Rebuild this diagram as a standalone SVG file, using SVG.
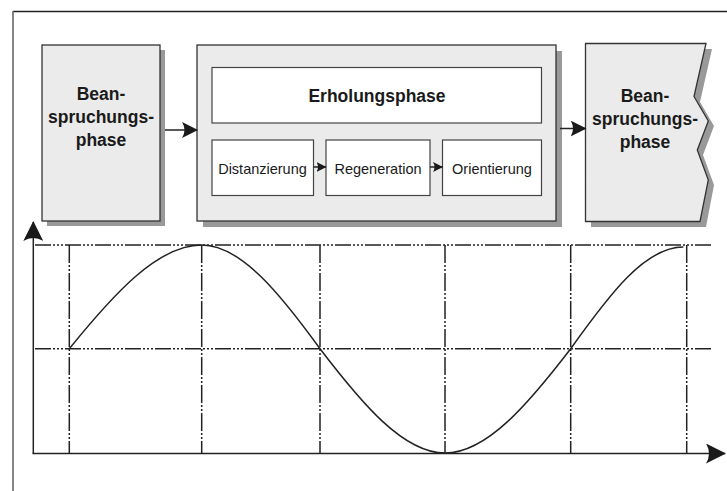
<svg xmlns="http://www.w3.org/2000/svg" width="727" height="491" viewBox="0 0 727 491">
<defs>
<style>
.box{fill:#ebebeb;stroke:#333;stroke-width:1.3}
.wbox{fill:#fff;stroke:#444;stroke-width:1.2}
.sh{fill:#999}
.bt{font-family:"Liberation Sans",Arial,sans-serif;font-weight:bold;font-size:17.5px;fill:#1a1a1a;text-anchor:middle}
.st{font-family:"Liberation Sans",Arial,sans-serif;font-size:14.5px;fill:#1a1a1a;text-anchor:middle}
.ln{stroke:#222;stroke-width:1.5;fill:none}
.grid{stroke:#222;stroke-width:1.5;fill:none;stroke-dasharray:16 2 2 2 2 2 2 2}
</style>
<marker id="ah" viewBox="0 0 16 16" refX="15" refY="8" markerWidth="16" markerHeight="16" markerUnits="userSpaceOnUse" orient="auto">
<path d="M0,0 L16,8 L0,16 Q5,8 0,0 Z" fill="#1a1a1a"/>
</marker>
<marker id="ahs" viewBox="0 0 10 10" refX="9.5" refY="5" markerWidth="10" markerHeight="10" markerUnits="userSpaceOnUse" orient="auto">
<path d="M0,0 L10,5 L0,10 Q3,5 0,0 Z" fill="#1a1a1a"/>
</marker>
<marker id="ax" viewBox="0 0 20 20" refX="19" refY="10" markerWidth="20" markerHeight="20" markerUnits="userSpaceOnUse" orient="auto">
<path d="M0,0 L20,10 L0,20 Q6,10 0,0 Z" fill="#1a1a1a"/>
</marker>
</defs>
<rect width="727" height="491" fill="#fff"/>
<g id="frame">
<line x1="13" y1="11.5" x2="727" y2="11.5" stroke="#222" stroke-width="1.3"/>
<line x1="13" y1="11" x2="13" y2="491" stroke="#666" stroke-width="1.6"/>
</g>
<g id="belastung1">
<rect class="sh" x="47" y="50" width="118" height="176"/>
<rect class="box" x="42" y="45" width="118" height="176"/>
<text class="bt" x="101" y="100">Bean-</text>
<text class="bt" x="101" y="123">spruchungs-</text>
<text class="bt" x="101" y="146">phase</text>
</g>
<g id="erholung">
<rect class="sh" x="203" y="51" width="359" height="176"/>
<rect class="box" x="197" y="45" width="359" height="176"/>
<g id="erholungsphase">
<rect class="wbox" x="212" y="67.5" width="329.5" height="55.5"/>
<text class="bt" x="377" y="102">Erholungsphase</text>
</g>
<g id="distanzierung">
<rect class="wbox" x="212" y="140" width="101.5" height="55.5"/>
<text class="st" x="262.5" y="174">Distanzierung</text>
</g>
<g id="regeneration">
<rect class="wbox" x="326" y="140" width="104" height="55.5"/>
<text class="st" x="378" y="174">Regeneration</text>
</g>
<g id="orientierung">
<rect class="wbox" x="442.5" y="140" width="99" height="55.5"/>
<text class="st" x="492" y="174">Orientierung</text>
</g>
</g>
<g id="belastung2">
<path class="sh" d="M591,49 L712,49 L700,102 L714,126 L703,155 L714,185 L706,227 L591,227 Z"/>
<path class="box" d="M585.5,43.5 L706,43.5 L694,96.5 L708.3,121 L697.3,150 L708.3,180 L700,221.5 L585.5,221.5 Z"/>
<text class="bt" x="645" y="102">Bean-</text>
<text class="bt" x="645" y="125">spruchungs-</text>
<text class="bt" x="645" y="148">phase</text>
</g>
<g id="connectors">
<line class="ln" x1="165" y1="130" x2="197" y2="130" marker-end="url(#ah)"/>
<line class="ln" x1="560" y1="128.5" x2="585.5" y2="128.5" marker-end="url(#ah)"/>
<line class="ln" x1="313.5" y1="167" x2="326" y2="167" stroke-width="1.2" marker-end="url(#ahs)"/>
<line class="ln" x1="430" y1="167" x2="442.5" y2="167" stroke-width="1.2" marker-end="url(#ahs)"/>
</g>
<g id="chart">
<line class="grid" x1="35" y1="245" x2="713" y2="245"/>
<line class="grid" x1="35" y1="348.7" x2="713" y2="348.7"/>
<line class="grid" x1="69.3" y1="245" x2="69.3" y2="453" style="stroke-dasharray:18 2 2 2 2 2"/>
<line class="grid" x1="201.7" y1="245" x2="201.7" y2="453" style="stroke-dasharray:18 2 2 2 2 2"/>
<line class="grid" x1="320" y1="245" x2="320" y2="453" style="stroke-dasharray:18 2 2 2 2 2"/>
<line class="grid" x1="445" y1="245" x2="445" y2="453" style="stroke-dasharray:18 2 2 2 2 2"/>
<line class="grid" x1="570.7" y1="245" x2="570.7" y2="453" style="stroke-dasharray:18 2 2 2 2 2"/>
<line class="grid" x1="686.7" y1="245" x2="686.7" y2="453" style="stroke-dasharray:18 2 2 2 2 2"/>
<line class="ln" x1="33.3" y1="453.5" x2="33.3" y2="222" marker-end="url(#ax)"/>
<line class="ln" x1="32.5" y1="453.5" x2="725" y2="453.5" marker-end="url(#ax)"/>
<path class="ln" d="M69.3,348.7 C113.4,294.4 157.6,245 201.7,245 C241.1,245 280.6,294.4 320,348.7 C361.7,403.3 403.3,453 445,453 C486.9,453 528.8,403.3 570.7,348.7 C609.4,294.4 645,247 683.3,247"/>
</g>
</svg>
